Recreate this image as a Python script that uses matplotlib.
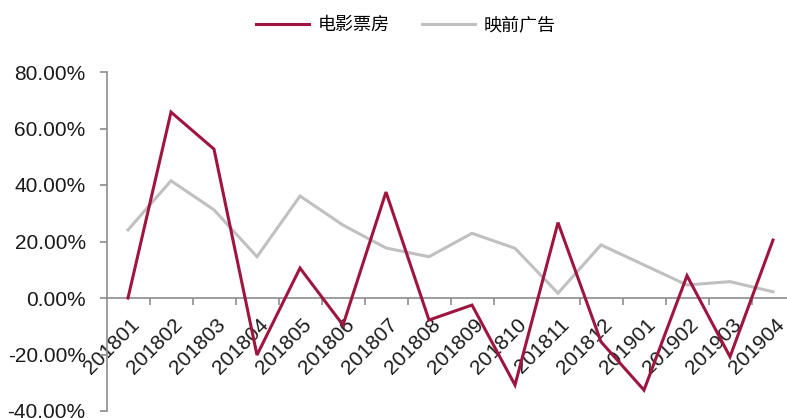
import matplotlib
matplotlib.use("Agg")
import matplotlib.pyplot as plt
from matplotlib.ticker import FuncFormatter, FixedLocator
from matplotlib.transforms import ScaledTranslation

categories = ["201801", "201802", "201803", "201804", "201805", "201806", "201807", "201808",
              "201809", "201810", "201811", "201812", "201901", "201902", "201903", "201904"]
box_office = [0.0, 65.8, 52.7, -20.2, 10.6, -9.6, 37.5, -7.8,
              -2.5, -30.8, 26.7, -15.5, -32.6, 7.9, -20.8, 20.5]
cinema_ads = [24.1, 41.5, 31.2, 14.6, 36.1, 25.8, 17.7, 14.6,
              22.9, 17.6, 1.7, 18.8, 11.7, 4.6, 5.8, 2.2]
series_names = ["电影票房", "映前广告"]
y_ticks = [-40, -20, 0, 20, 40, 60, 80]

red = "#9E1640"
gray = "#C0C0C0"
axis_col = "#8C8C8C"

fig = plt.figure(figsize=(7.87, 4.18), dpi=100)
ax = fig.add_axes([106.5 / 787, 1 - 411 / 418, (794.5 - 106.5) / 787, (411 - 72) / 418])

x = list(range(len(categories)))
l1, = ax.plot(x, box_office, color=red, lw=2.2, solid_joinstyle="miter", zorder=3)
l2, = ax.plot(x, cinema_ads, color=gray, lw=2.2, solid_joinstyle="miter", zorder=2)

ax.set_xlim(-0.5, len(categories) - 0.5)
ax.set_ylim(-40, 80)

for s in ["top", "right"]:
    ax.spines[s].set_visible(False)
ax.spines["bottom"].set_position(("data", 0))
ax.spines["bottom"].set_color(axis_col)
ax.spines["left"].set_color(axis_col)
ax.spines["bottom"].set_linewidth(1.2)
ax.spines["left"].set_linewidth(1.2)

ax.set_yticks(y_ticks)
ax.yaxis.set_major_formatter(FuncFormatter(lambda v, p: f"{v:.2f}%"))
ax.tick_params(axis="y", direction="out", length=5, color=axis_col, width=1.2,
               labelsize=15, labelcolor="#1a1a1a", pad=10)

ax.set_xticks(x)
ax.set_xticklabels(categories)
ax.xaxis.set_minor_locator(FixedLocator([i + 0.5 for i in range(len(categories) - 1)]))
ax.tick_params(axis="x", which="major", length=0, labelsize=15, labelcolor="#1a1a1a", pad=12)
ax.tick_params(axis="x", which="minor", direction="out", length=5, color=axis_col, width=1.2)
offset = ScaledTranslation(2 / 100, 0, fig.dpi_scale_trans)
for lab in ax.get_xticklabels():
    lab.set_rotation(45)
    lab.set_ha("right")
    lab.set_va("top")
    lab.set_rotation_mode("anchor")
    lab.set_family(["Liberation Sans", "DejaVu Sans"])
    lab.set_transform(lab.get_transform() + offset)
for lab in ax.get_yticklabels():
    lab.set_family(["Liberation Sans", "DejaVu Sans"])

fig.legend([l1, l2], series_names, loc="upper center", bbox_to_anchor=(0.516, 1.0),
           ncol=2, frameon=False, handlelength=2.9, handletextpad=0.5, columnspacing=1.8,
           prop={"family": ["Noto Sans CJK SC", "DejaVu Sans"], "size": 13})

fig.savefig("out.png", dpi=100)
